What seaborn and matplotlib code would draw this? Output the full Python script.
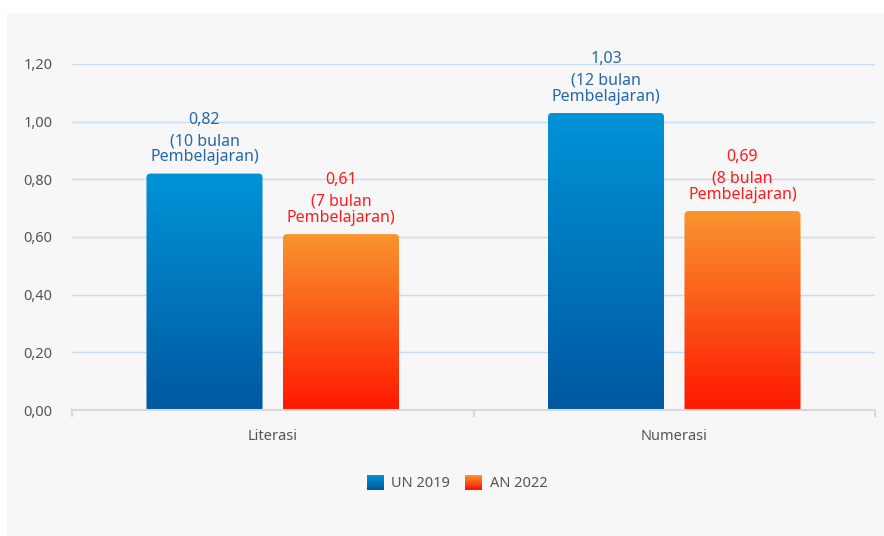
import numpy as np
import pandas as pd
import matplotlib
matplotlib.use("Agg")
import matplotlib.pyplot as plt
import matplotlib.colors as mcolors
from matplotlib.patches import Rectangle, FancyBboxPatch
from matplotlib.legend_handler import HandlerBase
import seaborn as sns

# data
kategori = ["Literasi", "Numerasi"]
tahun = ["UN 2019", "AN 2022"]
un_2019 = [0.82, 1.03]
an_2022 = [0.61, 0.69]
bulan_un = [10, 12]
bulan_an = [7, 8]
y_ticks = [0.0, 0.2, 0.4, 0.6, 0.8, 1.0, 1.2]

df = pd.DataFrame({
    "kategori": kategori * 2,
    "tahun": [tahun[0]] * 2 + [tahun[1]] * 2,
    "nilai": un_2019 + an_2022,
    "bulan": bulan_un + bulan_an,
})

grad = {
    "UN 2019": ("#0093d7", "#0058a0"),
    "AN 2022": ("#f9952f", "#ff1800"),
}
label_col = {"UN 2019": "#2567ad", "AN 2022": "#ff1c1c"}

sns.set_theme(style="white")
plt.rcParams["font.family"] = ["Noto Sans", "DejaVu Sans"]

fig = plt.figure(figsize=(8.84, 5.36), dpi=100, facecolor="white")
fig.patches.append(Rectangle((7 / 884, 0), 1, (536 - 13) / 536, transform=fig.transFigure,
                             facecolor="#f7f7f7", edgecolor="none", zorder=-10))
ax = fig.add_axes([72 / 884, 126 / 536, 803 / 884, 346 / 536])
ax.set_facecolor("none")

sns.barplot(data=df, x="kategori", y="nilai", hue="tahun", hue_order=tahun,
            palette=[grad[t][0] for t in tahun], width=0.68, gap=0.15,
            legend=False, ax=ax)

ax.set_xlim(-0.5, 1.5)
ax.set_ylim(0, 1.2)

# gradient fill per bar, rounded top corners
for patch, (_, row) in zip(list(ax.patches), df.iterrows()):
    x0 = patch.get_x()
    w = patch.get_width()
    h = patch.get_height()
    patch.set_visible(False)
    top, bot = grad[row["tahun"]]
    clip = FancyBboxPatch((x0, -0.03), w, h + 0.03,
                          boxstyle="round,pad=0,rounding_size=0.01",
                          mutation_aspect=1.39, facecolor="none", edgecolor="none",
                          transform=ax.transData)
    ax.add_patch(clip)
    cmap = mcolors.LinearSegmentedColormap.from_list("g", [bot, top])
    img = np.linspace(0, 1, 256).reshape(-1, 1)
    im = ax.imshow(img, cmap=cmap, aspect="auto", origin="lower",
                   extent=[x0, x0 + w, 0, h], zorder=2)
    im.set_clip_path(clip)
    col = label_col[row["tahun"]]
    ax.annotate(f"({row['bulan']} bulan\nPembelajaran)", (x0 + w / 2, h),
                xytext=(0, 6), textcoords="offset points", ha="center", va="bottom",
                fontsize=11.5, color=col, linespacing=1.0)
    ax.annotate(f"{row['nilai']:.2f}".replace(".", ","), (x0 + w / 2, h),
                xytext=(0, 33), textcoords="offset points", ha="center", va="bottom",
                fontsize=11.5, color=col)

ax.set_xlim(-0.5, 1.5)
ax.set_ylim(0, 1.2)
ax.set_yticks(y_ticks)
ax.set_yticklabels([f"{v:.2f}".replace(".", ",") for v in y_ticks])
ax.yaxis.grid(True, color="#c6dcf3", linewidth=1)
ax.set_axisbelow(True)
for s in ["top", "right", "left"]:
    ax.spines[s].set_visible(False)
ax.spines["bottom"].set_color("#d9d9d9")
ax.spines["bottom"].set_linewidth(1.5)
ax.spines["bottom"].set_zorder(5)

ax.set_xticks([-0.5, 0.5, 1.5])
ax.set_xticklabels([])
ax.set_xticks([0, 1], minor=True)
ax.set_xticklabels(kategori, minor=True)
ax.tick_params(axis="x", which="major", length=5, width=1.5, color="#d9d9d9", bottom=True)
ax.tick_params(axis="x", which="minor", length=0, pad=14, labelsize=10.5, labelcolor="#555555")
ax.tick_params(axis="y", length=0, pad=14, labelsize=10.5, labelcolor="#555555")
ax.set_xlabel("")
ax.set_ylabel("")


class GradientHandler(HandlerBase):
    def __init__(self, top, bot):
        super().__init__()
        self.top, self.bot = top, bot

    def create_artists(self, legend, orig_handle, xdescent, ydescent, width, height, fontsize, trans):
        cmap = mcolors.LinearSegmentedColormap.from_list("g", [self.bot, self.top])
        n = 12
        arts = []
        for i in range(n):
            arts.append(Rectangle((-xdescent, -ydescent + i * height / n), width, height / n * 1.05,
                                  facecolor=cmap(i / (n - 1)), edgecolor="none", transform=trans))
        return arts


handles = [Rectangle((0, 0), 1, 1) for _ in tahun]
fig.legend(handles, tahun, loc="center", bbox_to_anchor=(0.517, 0.099), ncol=2, frameon=False,
           fontsize=10.5, labelcolor="#555555", handlelength=1.2, handleheight=1.2,
           handletextpad=0.5, columnspacing=1.0,
           handler_map={handles[i]: GradientHandler(*grad[t]) for i, t in enumerate(tahun)})

fig.savefig("out.png", dpi=100, facecolor="white")
